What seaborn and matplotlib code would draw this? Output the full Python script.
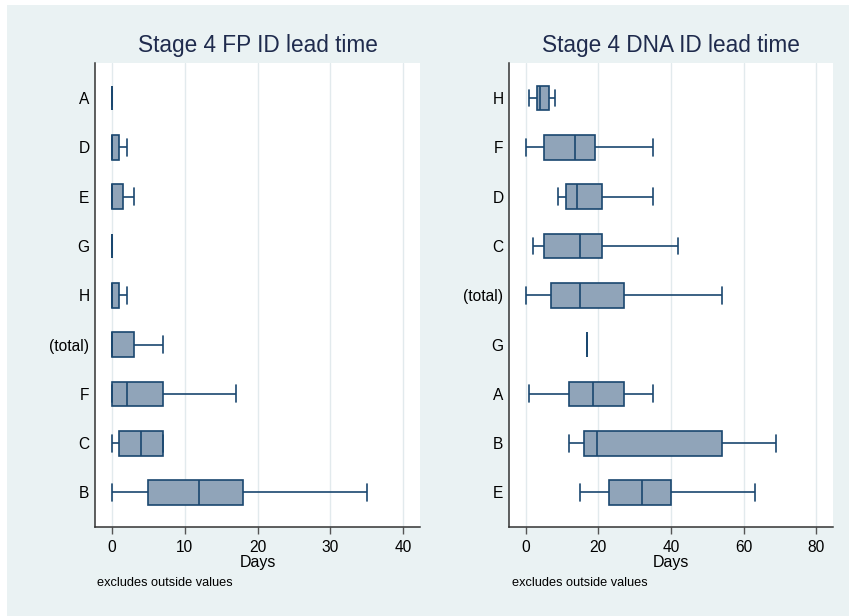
import numpy as np
import pandas as pd
import matplotlib
matplotlib.use("Agg")
import matplotlib.pyplot as plt
import seaborn as sns

# ---- data: five-number summaries (min whisker, Q1, median, Q3, max whisker) ----
fp_groups = ["A", "D", "E", "G", "H", "(total)", "F", "C", "B"]
fp_min = [0, 0, 0, 0, 0, 0, 0, 0, 0]
fp_q1 = [0, 0, 0, 0, 0, 0, 0, 1, 5]
fp_med = [0, 0, 0, 0, 0, 0, 2, 4, 12]
fp_q3 = [0, 1, 1.5, 0, 1, 3, 7, 7, 18]
fp_max = [0, 2, 3, 0, 2, 7, 17, 7, 35]

dna_groups = ["H", "F", "D", "C", "(total)", "G", "A", "B", "E"]
dna_min = [1, 0, 9, 2, 0, 17, 1, 12, 15]
dna_q1 = [3, 5, 11, 5, 7, 17, 12, 16, 23]
dna_med = [4, 13.5, 14, 15, 15, 17, 18.5, 19.5, 32]
dna_q3 = [6.5, 19, 21, 21, 27, 17, 27, 54, 40]
dna_max = [8, 35, 35, 42, 54, 17, 35, 69, 63]

fp_ticks = [0, 10, 20, 30, 40]
dna_ticks = [0, 20, 40, 60, 80]


def to_long(groups, mins, q1s, meds, q3s, maxs):
    rows = []
    for g, a, b, c, d, e in zip(groups, mins, q1s, meds, q3s, maxs):
        for v in (a, b, c, d, e):
            rows.append({"group": g, "days": v})
    return pd.DataFrame(rows)


df_fp = to_long(fp_groups, fp_min, fp_q1, fp_med, fp_q3, fp_max)
df_dna = to_long(dna_groups, dna_min, dna_q1, dna_med, dna_q3, dna_max)

# ---- style ----
sns.set_theme(style="white")
plt.rcParams["font.family"] = ["Liberation Sans", "DejaVu Sans"]

BG = "#EAF2F3"
FILL = "#90A4B9"
EDGE = "#1A476F"
GRID = "#E2EAED"
TITLE = "#1F2B4D"

fig = plt.figure(figsize=(8.49, 6.16), dpi=100)
fig.patch.set_facecolor("white")
fig.patches.append(plt.Rectangle((7 / 849, 0), 1 - 7 / 849, 1 - 5 / 616,
                                 transform=fig.transFigure, facecolor=BG,
                                 edgecolor="none", zorder=-10))

W, H = 849, 616


def make_ax(x0, x1, y0, y1):
    return fig.add_axes([x0 / W, 1 - y1 / H, (x1 - x0) / W, (y1 - y0) / H])


ax1 = make_ax(95, 420, 63, 527)
ax2 = make_ax(509, 833, 63, 527)

panels = [
    (ax1, df_fp, fp_groups, fp_ticks, (-2.34, 42.3), "Stage 4 FP ID lead time", 97),
    (ax2, df_dna, dna_groups, dna_ticks, (-4.6, 84.6), "Stage 4 DNA ID lead time", 512),
]

for ax, df, order, ticks, xlim, title, note_x in panels:
    ax.set_facecolor("white")
    for t in ticks:
        ax.axvline(t, color=GRID, lw=1.0, zorder=0)
    sns.boxplot(data=df, x="days", y="group", order=order, orient="h",
                whis=np.inf, width=0.5, color=FILL, linecolor=EDGE,
                linewidth=1.2, saturation=1, showfliers=False,
                capwidths=0.34, ax=ax, zorder=3)
    ax.set_xlim(*xlim)
    ax.set_ylim(8.7, -0.71)
    ax.set_xticks(ticks)
    ax.set_xticklabels([str(t) for t in ticks])
    ax.set_xlabel("Days", fontsize=11.5, color="black", labelpad=0.5)
    ax.set_ylabel("")
    ax.set_title(title, fontsize=16.3, color=TITLE, pad=8)
    ax.tick_params(axis="x", direction="out", length=5, width=1,
                   color="#555555", labelsize=11.2, labelcolor="black", pad=4,
                   bottom=True)
    ax.tick_params(axis="y", length=0, labelsize=11.2, labelcolor="black", pad=4)
    for side in ("top", "right"):
        ax.spines[side].set_visible(False)
    for side in ("left", "bottom"):
        ax.spines[side].set_visible(True)
        ax.spines[side].set_color("#333333")
        ax.spines[side].set_linewidth(1.1)
    fig.text(note_x / W, 1 - 586 / H, "excludes outside values",
             fontsize=9.2, color="black", va="baseline", ha="left")

fig.savefig("out.png", dpi=100, facecolor=fig.get_facecolor())
